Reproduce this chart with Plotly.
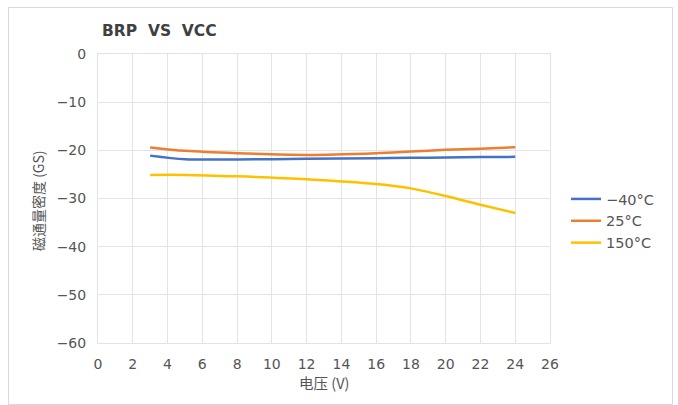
import plotly.graph_objects as go

# Supply voltage (V) sample points
voltage = [3, 5, 8, 12, 16, 18, 20, 22, 24]

# Release point flux density (GS) per temperature
brp_m40 = [-21.1, -21.85, -21.9, -21.75, -21.65, -21.55, -21.5, -21.4, -21.35]
brp_25 = [-19.4, -20.1, -20.6, -20.95, -20.6, -20.25, -19.9, -19.65, -19.35]
brp_150 = [-25.1, -25.1, -25.4, -26.0, -27.0, -27.9, -29.5, -31.3, -33.0]

series_names = ["−40°C", "25°C", "150°C"]
series_colors = ["#4472C4", "#ED7D31", "#FFC000"]

x_ticks = list(range(0, 27, 2))
y_ticks = list(range(-60, 1, 10))

W, H = 678, 405
L, R, T, B = 98, 128, 54, 62

fig = go.Figure()
for name, vals, col in zip(series_names, [brp_m40, brp_25, brp_150], series_colors):
    fig.add_trace(go.Scatter(
        x=voltage, y=vals, name=name, mode="lines",
        line=dict(color=col, width=2.5, shape="spline", smoothing=0.8),
    ))

font_num = "DejaVu Sans, Liberation Sans, sans-serif"
font_cjk = "Noto Sans CJK SC, sans-serif"
text_col = "#555555"
grid = "#E3E3E3"

pw = W - L - R
ph = H - T - B


def px_x(px):
    return (px - L) / pw


def px_y(py):
    return (H - B - py) / ph


fig.update_layout(
    width=W, height=H, autosize=False,
    margin=dict(l=L, r=R, t=T, b=B),
    paper_bgcolor="white", plot_bgcolor="white",
    title=dict(
        text="<b>BRP  VS  VCC</b>",
        x=102 / W, xanchor="left", xref="container",
        y=1 - 31 / H, yanchor="middle", yref="container",
        font=dict(family=font_num, size=15.5, color="#404040"),
    ),
    font=dict(family=font_num, size=14, color=text_col),
    xaxis=dict(
        range=[0, 26], tickvals=x_ticks, showgrid=True, gridcolor=grid, gridwidth=1,
        zeroline=False, showline=True, linecolor=grid, mirror=True,
        ticks="outside", ticklen=8, tickcolor="rgba(0,0,0,0)",
        tickfont=dict(family=font_num, size=14, color=text_col),
    ),
    yaxis=dict(
        range=[-60, 0], tickvals=y_ticks, showgrid=True, gridcolor=grid, gridwidth=1,
        zeroline=False, showline=True, linecolor=grid, mirror=True,
        ticks="outside", ticklen=8, tickcolor="rgba(0,0,0,0)",
        tickfont=dict(family=font_num, size=14, color=text_col),
    ),
    legend=dict(
        x=px_x(566), y=px_y(183), xanchor="left", yanchor="top",
        font=dict(family=font_num, size=14.5, color=text_col), bgcolor="rgba(0,0,0,0)",
        tracegroupgap=0, itemwidth=30,
    ),
    annotations=[
        dict(text="电压 (V)", xref="paper", yref="paper",
             x=px_x(324), y=px_y(383), xanchor="center", yanchor="middle",
             showarrow=False, font=dict(family=font_cjk, size=14.5, color=text_col)),
        dict(text="磁通量密度 (GS)", xref="paper", yref="paper", textangle=-90,
             x=px_x(38), y=px_y(200), xanchor="center", yanchor="middle",
             showarrow=False, font=dict(family=font_cjk, size=14, color=text_col)),
    ],
    shapes=[dict(
        type="rect", xref="paper", yref="paper",
        x0=px_x(8.5), x1=px_x(672.5), y0=px_y(404.5), y1=px_y(7.5),
        line=dict(color="#D9D9D9", width=1), layer="below",
    )],
)

fig.write_html("out.html")
